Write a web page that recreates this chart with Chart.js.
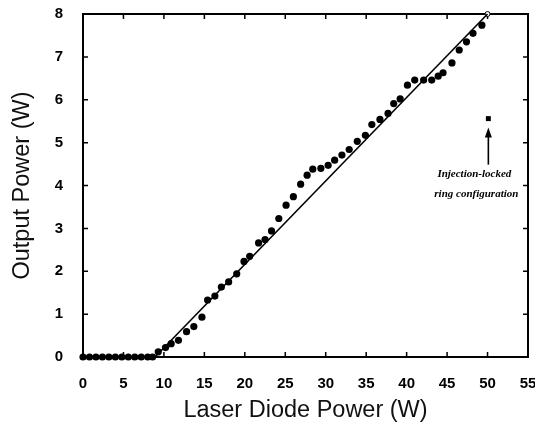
<!DOCTYPE html>
<html>
<head>
<meta charset="utf-8">
<script src="https://cdn.jsdelivr.net/npm/chart.js@4.4.1/dist/chart.umd.min.js"></script>
<style>
  body { margin: 0; background: #fff; }
  .wrap { width: 535px; height: 425px; }
</style>
</head>
<body>
<div class="wrap"><canvas id="Chart" width="535" height="425"></canvas></div>
<script>
const diodePower = [0, 0.8, 1.6, 2.4, 3.2, 4.0, 4.8, 5.6, 6.4, 7.2, 8.0, 8.6,
  9.3, 10.2, 10.9, 11.8, 12.8, 13.7, 14.7, 15.4, 16.3, 17.1, 18.0, 19.0, 19.9,
  20.6, 21.7, 22.5, 23.3, 24.2, 25.1, 26.0, 26.9, 27.7, 28.4, 29.4, 30.3, 31.1,
  32.0, 32.9, 33.9, 34.9, 35.7, 36.7, 37.7, 38.4, 39.2, 40.1, 41.0, 42.1, 43.1,
  43.9, 44.5, 45.6, 46.5, 47.4, 48.2, 49.3];
const outputPower = [0, 0, 0, 0, 0, 0, 0, 0, 0, 0, 0, 0,
  0.12, 0.22, 0.31, 0.39, 0.59, 0.71, 0.93, 1.33, 1.42, 1.63, 1.75, 1.94, 2.23,
  2.35, 2.66, 2.74, 2.94, 3.23, 3.54, 3.74, 4.03, 4.24, 4.38, 4.40, 4.47, 4.59,
  4.71, 4.84, 5.03, 5.17, 5.42, 5.54, 5.68, 5.91, 6.02, 6.34, 6.46, 6.46, 6.46,
  6.55, 6.63, 6.86, 7.16, 7.35, 7.55, 7.74];

// straight fit line
const fitX = [8.9, 50.0];
const fitY = [0, 8.0];

// open circle at the end of the fit
const endX = [50.0];
const endY = [8.0];

// injection-locked ring configuration point
const ringX = [50.1];
const ringY = [5.56];

const xTicks = [0, 5, 10, 15, 20, 25, 30, 35, 40, 45, 50, 55];
const yTicks = [0, 1, 2, 3, 4, 5, 6, 7, 8];

function toPoints(xs, ys) {
  return xs.map(function (x, i) { return { x: x, y: ys[i] }; });
}

const framePlugin = {
  id: "frame",
  beforeDatasetsDraw: function (chart) {
    const ctx = chart.ctx;
    const a = chart.chartArea;
    const sx = chart.scales.x;
    const sy = chart.scales.y;
    ctx.save();
    ctx.strokeStyle = "#000";
    ctx.lineWidth = 2;
    ctx.strokeRect(a.left, a.top, a.right - a.left, a.bottom - a.top);
    ctx.lineWidth = 1.5;
    ctx.beginPath();
    xTicks.forEach(function (v) {
      const px = sx.getPixelForValue(v);
      ctx.moveTo(px, a.bottom); ctx.lineTo(px, a.bottom - 5);
      ctx.moveTo(px, a.top); ctx.lineTo(px, a.top + 5);
    });
    yTicks.forEach(function (v) {
      const py = sy.getPixelForValue(v);
      ctx.moveTo(a.left, py); ctx.lineTo(a.left + 5, py);
      ctx.moveTo(a.right, py); ctx.lineTo(a.right - 5, py);
    });
    ctx.stroke();
    ctx.restore();
  },
  afterDatasetsDraw: function (chart) {
    const ctx = chart.ctx;
    const px = chart.scales.x.getPixelForValue(ringX[0]);
    const py = chart.scales.y.getPixelForValue(ringY[0]);
    ctx.save();
    ctx.strokeStyle = "#000";
    ctx.fillStyle = "#000";
    ctx.lineWidth = 1.6;
    ctx.beginPath();
    ctx.moveTo(px, py + 46);
    ctx.lineTo(px, py + 16);
    ctx.stroke();
    ctx.beginPath();
    ctx.moveTo(px, py + 9);
    ctx.lineTo(px - 3.5, py + 19);
    ctx.lineTo(px + 3.5, py + 19);
    ctx.closePath();
    ctx.fill();
    ctx.font = "italic bold 11px 'Liberation Serif'";
    ctx.textAlign = "center";
    ctx.textBaseline = "middle";
    ctx.fillText("Injection-locked", px - 14, py + 56);
    ctx.fillText("ring configuration", px - 12, py + 76);
    ctx.restore();
  }
};

const cht = document.getElementById("Chart");
const chart = new Chart(cht.getContext("2d"), {
  type: "scatter",
  data: {
    datasets: [
      {
        type: "line",
        data: toPoints(fitX, fitY),
        borderColor: "#000",
        borderWidth: 1.6,
        pointRadius: 0,
        fill: false
      },
      {
        data: toPoints(diodePower, outputPower),
        backgroundColor: "#000",
        borderColor: "#000",
        pointRadius: 3.6,
        borderWidth: 0
      },
      {
        data: toPoints(endX, endY),
        backgroundColor: "#fff",
        borderColor: "#000",
        pointRadius: 2.5,
        borderWidth: 1
      },
      {
        data: toPoints(ringX, ringY),
        pointStyle: "rect",
        backgroundColor: "#000",
        borderColor: "#000",
        pointRadius: 3.5,
        borderWidth: 0
      }
    ]
  },
  options: {
    responsive: false,
    animation: false,
    clip: false,
    layout: { padding: { top: 14, right: 7, left: 0, bottom: 0 } },
    plugins: {
      legend: { display: false },
      tooltip: { enabled: false }
    },
    scales: {
      x: {
        type: "linear",
        min: 0,
        max: 55,
        grid: { display: false },
        border: { display: false },
        ticks: {
          stepSize: 5,
          color: "#000",
          padding: 10,
          font: { family: "'Liberation Sans', Arial", size: 15, weight: "bold" }
        },
        title: {
          display: true,
          text: "Laser Diode Power (W)",
          color: "#111",
          padding: { top: 0, bottom: 0 },
          font: { family: "'Liberation Sans', Arial", size: 23.5 }
        },
        afterFit: function (scale) {
          scale.height = 68;
          scale.paddingLeft = 0;
          scale.paddingRight = 0;
        }
      },
      y: {
        type: "linear",
        min: 0,
        max: 8,
        grid: { display: false },
        border: { display: false },
        ticks: {
          stepSize: 1,
          color: "#000",
          padding: 12,
          font: { family: "'Liberation Sans', Arial", size: 15, weight: "bold" }
        },
        title: {
          display: true,
          text: "Output Power (W)",
          color: "#111",
          padding: { top: 8 },
          font: { family: "'Liberation Sans', Arial", size: 23.5 }
        },
        afterFit: function (scale) {
          scale.width = 83;
          scale.paddingTop = 0;
          scale.paddingBottom = 0;
        }
      }
    }
  },
  plugins: [framePlugin]
});
</script>
</body>
</html>
